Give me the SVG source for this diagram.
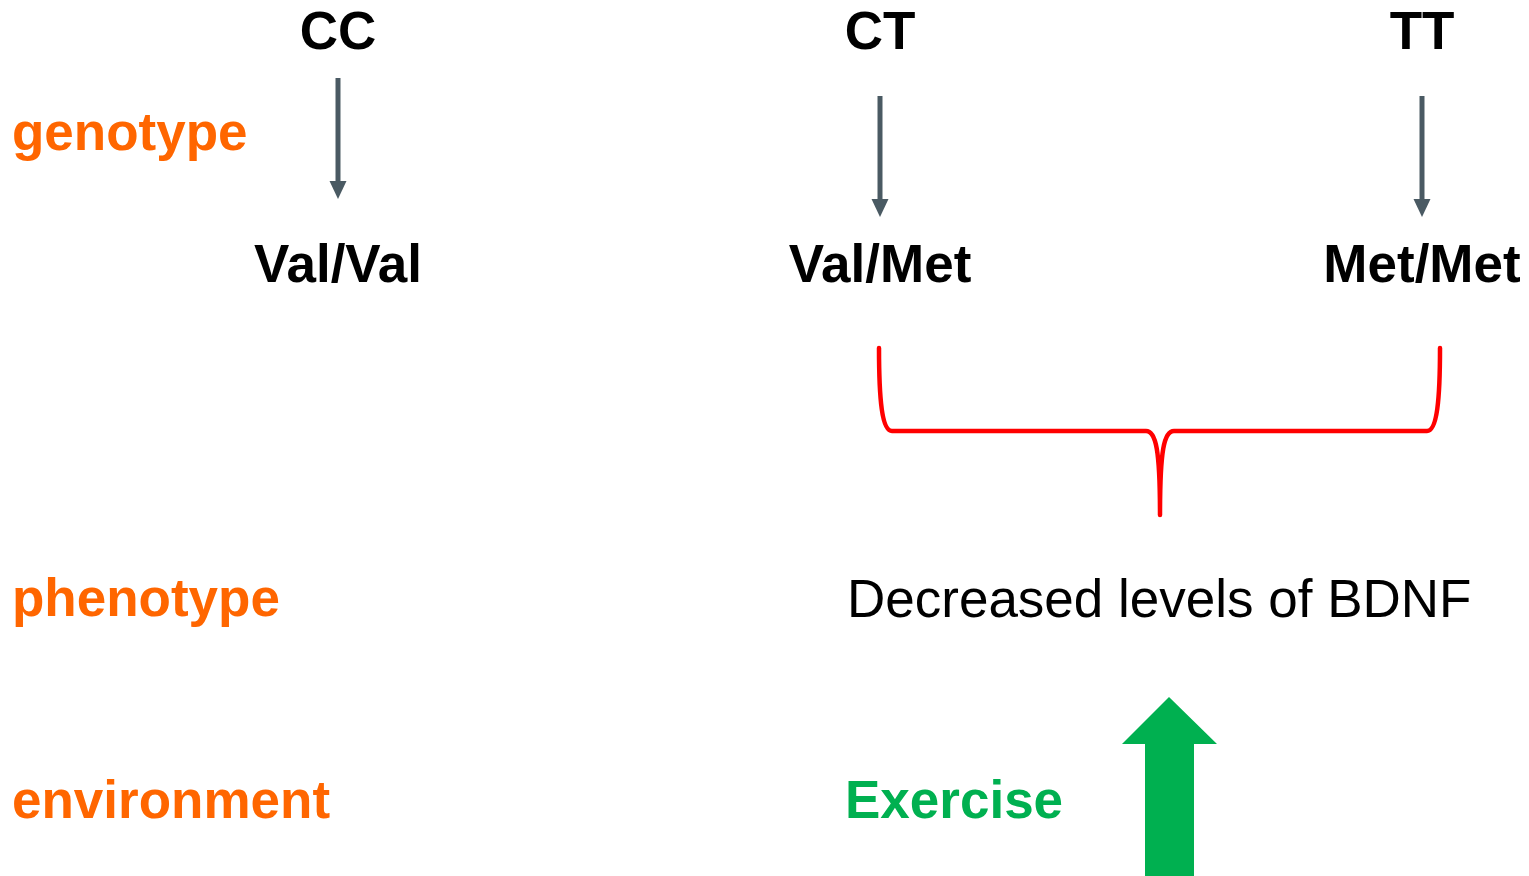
<svg xmlns="http://www.w3.org/2000/svg" width="1529" height="876" viewBox="0 0 1529 876">
<style>
.lbl{font-family:"Liberation Sans",Arial,sans-serif;font-weight:bold;font-size:53px;fill:#FF6600}
.gen{font-family:"Liberation Sans",Arial,sans-serif;font-weight:bold;font-size:53px;fill:#000;text-anchor:middle}
.phen{font-family:"Liberation Sans",Arial,sans-serif;font-size:53px;fill:#000}
.ex{font-family:"Liberation Sans",Arial,sans-serif;font-weight:bold;font-size:53px;fill:#00B050}
.arr{stroke:#4A5A63;stroke-width:5;fill:none}
</style>
<defs>
<marker id="ah" markerWidth="4" markerHeight="4" refX="2" refY="2" orient="auto" markerUnits="strokeWidth" viewBox="0 0 4 4">
<path d="M0,0.3 L3.6,2 L0,3.7 z" fill="#4A5A63"/>
</marker>
</defs>
<g id="labels">
<text class="lbl" x="12" y="150">genotype</text>
<text class="lbl" x="12" y="616">phenotype</text>
<text class="lbl" x="12" y="818">environment</text>
</g>
<g id="cc"><text class="gen" x="338" y="49">CC</text></g>
<g id="ct"><text class="gen" x="880" y="49">CT</text></g>
<g id="tt"><text class="gen" x="1422" y="49">TT</text></g>
<g id="valval"><text class="gen" x="338" y="282">Val/Val</text></g>
<g id="valmet"><text class="gen" x="880" y="282">Val/Met</text></g>
<g id="metmet"><text class="gen" x="1422" y="282">Met/Met</text></g>
<g id="bdnf"><text class="phen" x="847" y="617">Decreased levels of BDNF</text></g>
<g id="exercise"><text class="ex" x="845" y="818">Exercise</text></g>
<g id="connectors">
<line class="arr" x1="338" y1="78" x2="338" y2="191" marker-end="url(#ah)"/>
<line class="arr" x1="880" y1="96" x2="880" y2="209" marker-end="url(#ah)"/>
<line class="arr" x1="1422" y1="96" x2="1422" y2="209" marker-end="url(#ah)"/>
<path d="M879,348 C879,400 882,431 892,431 L1146,431 C1156,431 1160,450 1160,515 C1160,450 1164,431 1174,431 L1427,431 C1437,431 1440,400 1440,348" fill="none" stroke="#FF0000" stroke-width="4.5" stroke-linecap="round" stroke-linejoin="round"/>
<polygon points="1169,697 1217,744 1194,744 1194,876 1145,876 1145,744 1122,744" fill="#00B050"/>
</g>
</svg>
